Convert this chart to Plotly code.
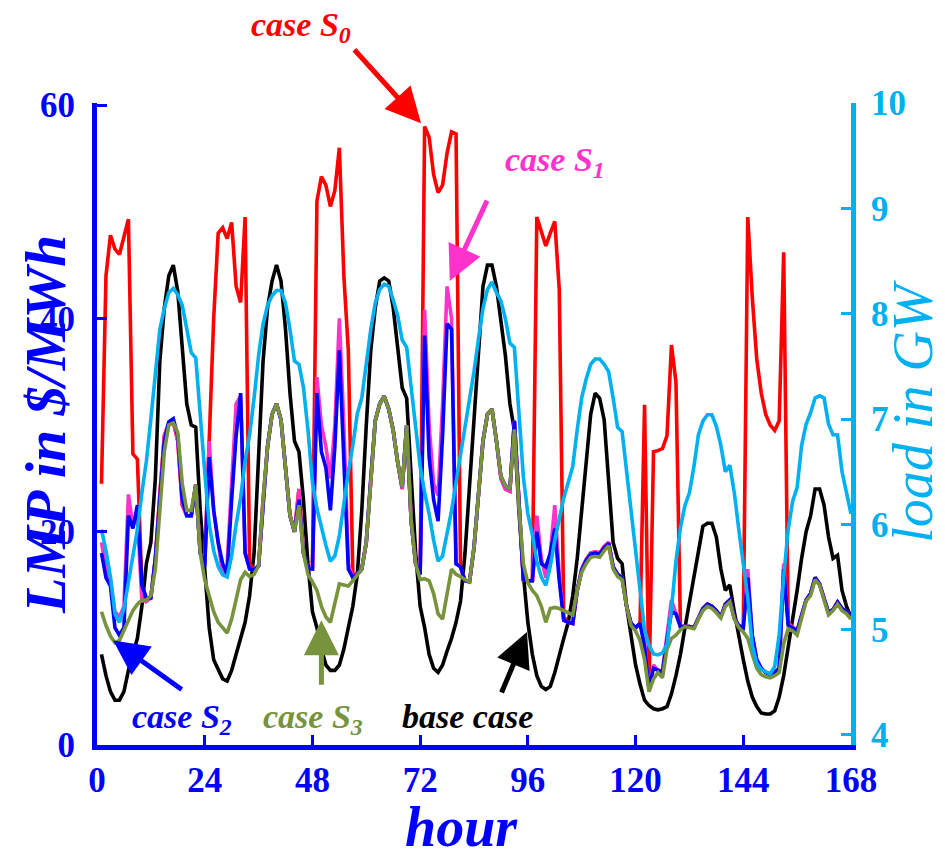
import plotly.graph_objects as go

hours = list(range(1, 169))

base_case = [
    8.5, 6.5, 5.0, 4.2, 4.2, 5.0, 7.0, 8.5, 10.0, 13.0, 17.0, 19.0, 25.0, 36.0, 41.0, 44.0, 45.0, 42.5, 37.0, 32.0, 30.0, 29.8, 22.0, 16.0,
    11.0, 8.0, 7.0, 6.2, 6.0, 7.0, 8.5, 10.0, 11.5, 14.0, 18.0, 27.0, 36.0, 41.0, 43.5, 45.0, 43.5, 39.0, 33.0, 28.5, 27.5, 23.0, 17.0, 12.5,
    11.0, 9.0, 7.5, 7.0, 7.0, 7.5, 9.0, 11.0, 13.0, 16.0, 22.0, 30.0, 37.0, 41.0, 43.5, 43.8, 43.5, 41.0, 37.0, 33.5, 32.5, 25.0, 18.0, 13.0,
    11.0, 8.5, 7.2, 6.8, 7.5, 8.8, 10.0, 11.5, 13.5, 18.0, 24.5, 31.0, 37.5, 43.0, 45.0, 45.0, 43.0, 39.5, 36.5, 32.0, 29.5, 22.0, 16.0, 11.5,
    8.5, 6.5, 5.5, 5.2, 5.5, 6.8, 8.5, 10.0, 11.5, 14.0, 17.5, 22.0, 27.0, 31.0, 33.0, 32.5, 30.5, 25.0, 19.0, 17.5, 17.0, 13.0, 10.0, 7.5,
    5.7, 4.2, 3.7, 3.4, 3.3, 3.4, 3.6, 4.8, 6.5, 8.5, 11.0, 13.5, 16.0, 18.5, 20.5, 20.8, 20.8, 19.5, 16.5, 14.5, 15.0, 12.5, 10.0, 8.0,
    6.0, 4.5, 3.6, 3.0, 2.9, 2.9, 3.2, 4.5, 6.5, 9.0, 12.0, 14.5, 17.5, 20.0, 21.5, 24.0, 24.0, 22.5, 19.5, 17.5, 17.8, 14.5, 13.0, 12.0,
]

case_s0 = [
    24.5, 44.0, 47.8, 46.5, 46.0, 47.5, 49.3, 27.3, 26.8, 15.0, 13.5, 13.8, 17.5, 23.5, 29.0, 30.2, 30.3, 28.5, 22.5, 21.5, 21.5, 24.4, 18.0, 17.0,
    28.5, 40.0, 48.0, 48.5, 47.5, 49.0, 43.0, 41.5, 49.5, 17.0, 16.4, 16.8, 23.0, 28.0, 31.0, 32.0, 30.5, 26.0, 21.5, 20.0, 24.0, 18.0, 16.5, 16.5,
    51.0, 53.3, 52.5, 50.5, 52.0, 56.0, 44.0, 37.0, 16.0, 16.0, 16.5, 19.0, 25.0, 30.4, 32.0, 32.7, 31.5, 29.5, 26.5, 24.0, 30.0, 21.0, 17.0, 16.0,
    58.0, 57.0, 53.5, 51.8, 52.5, 55.5, 57.5, 57.3, 16.7, 15.4, 15.3, 18.5, 23.5, 28.5, 31.0, 31.5, 28.5, 25.0, 24.0, 23.8, 30.4, 22.5, 15.5, 15.4,
    15.4, 49.5, 48.0, 46.8, 48.0, 49.1, 42.7, 12.0, 11.5, 11.4, 14.5, 16.5, 17.4, 18.0, 18.1, 18.0, 18.6, 19.0, 16.7, 16.0, 15.7, 13.0, 11.4, 11.0,
    11.4, 31.9, 5.5, 27.5, 27.6, 27.8, 29.0, 37.5, 34.0, 11.1, 11.1, 11.1, 11.0, 12.0, 12.8, 13.2, 13.0, 12.6, 12.0, 13.2, 13.6, 11.9, 11.2, 11.0,
    49.5, 42.0, 36.2, 33.0, 31.0, 30.0, 29.5, 30.4, 46.2, 11.5, 11.0, 10.7, 12.2, 13.6, 14.2, 15.7, 15.1, 13.7, 12.4, 12.7, 13.4, 12.8, 12.5, 12.0,
]

case_s1 = [
    19.0, 16.5, 15.5, 12.5, 12.0, 13.0, 23.5, 20.5, 21.5, 13.5, 13.5, 13.8, 17.5, 23.5, 29.0, 30.2, 30.3, 28.5, 22.5, 21.5, 21.5, 24.4, 18.0, 17.0,
    28.5, 22.0, 19.0, 16.0, 17.0, 25.0, 32.0, 32.7, 18.0, 16.5, 16.4, 16.8, 23.0, 28.0, 31.0, 32.0, 30.5, 26.0, 21.5, 20.0, 24.0, 18.0, 16.5, 16.5,
    34.5, 30.0, 28.0, 25.0, 30.0, 40.0, 30.0, 17.0, 15.7, 16.0, 16.5, 19.0, 25.0, 30.4, 32.0, 32.7, 31.5, 29.5, 26.5, 24.0, 30.0, 21.0, 17.0, 16.0,
    40.8, 30.0, 24.5, 23.4, 32.0, 43.0, 40.0, 17.0, 16.7, 15.4, 15.3, 18.5, 23.5, 28.5, 31.0, 31.5, 28.5, 25.0, 24.0, 23.8, 30.4, 22.5, 15.5, 15.4,
    15.4, 21.5, 17.5, 15.7, 18.0, 22.5, 16.0, 11.7, 11.5, 11.4, 14.5, 16.5, 17.4, 18.0, 18.1, 18.0, 18.6, 19.0, 16.7, 16.0, 15.7, 13.0, 11.4, 11.0,
    11.4, 9.6, 5.3, 7.5, 7.0, 7.0, 10.0, 13.6, 12.3, 11.1, 11.1, 11.1, 11.0, 12.0, 12.8, 13.2, 13.0, 12.6, 12.0, 13.2, 13.6, 11.9, 11.2, 11.0,
    16.5, 10.3, 8.0, 7.2, 6.8, 6.6, 6.8, 7.2, 17.0, 11.4, 11.0, 10.7, 12.2, 13.6, 14.2, 15.7, 15.1, 13.7, 12.4, 12.7, 13.4, 12.8, 12.5, 12.0,
]

case_s2 = [
    18.0, 15.7, 14.9, 11.0, 10.3, 11.0, 21.5, 20.3, 22.5, 15.0, 13.8, 13.8, 17.5, 23.5, 28.5, 30.3, 30.6, 29.0, 23.0, 21.5, 21.5, 24.4, 18.0, 16.7,
    27.0, 22.0, 19.0, 17.0, 16.0, 23.0, 29.0, 33.0, 18.0, 16.5, 16.4, 16.8, 23.0, 28.0, 31.0, 32.0, 30.5, 26.0, 21.5, 20.0, 23.0, 18.0, 16.5, 16.5,
    33.0, 27.5, 26.0, 22.0, 28.0, 37.0, 26.0, 16.5, 15.7, 16.0, 16.5, 19.0, 25.0, 30.4, 32.0, 32.7, 31.5, 29.5, 26.5, 24.2, 30.0, 21.0, 17.0, 16.0,
    38.4, 27.0, 23.0, 21.0, 29.0, 39.5, 39.0, 17.0, 16.7, 15.4, 15.3, 18.5, 23.5, 28.5, 31.0, 31.5, 28.5, 25.2, 24.3, 24.0, 30.4, 22.5, 15.5, 15.4,
    15.4, 20.0, 17.0, 16.7, 18.0, 20.3, 15.4, 11.7, 11.5, 11.4, 14.5, 16.4, 17.3, 17.9, 18.0, 17.9, 18.5, 18.9, 16.7, 16.0, 15.7, 13.0, 11.4, 11.0,
    11.4, 9.2, 5.3, 7.2, 7.0, 6.8, 9.9, 12.5, 12.3, 11.1, 11.1, 11.1, 11.0, 12.0, 12.8, 13.2, 13.0, 12.6, 12.0, 13.2, 13.6, 11.9, 11.2, 11.0,
    15.7, 10.3, 8.0, 7.2, 6.8, 6.6, 6.8, 7.2, 16.5, 11.2, 11.0, 10.7, 12.2, 13.6, 14.2, 15.7, 15.1, 13.7, 12.4, 12.7, 13.4, 12.8, 12.5, 12.0,
]

case_s3 = [
    12.5, 11.2, 10.2, 9.6, 9.8, 10.8, 11.8, 12.6, 13.2, 13.6, 13.6, 14.0, 16.5, 22.0, 27.5, 30.0, 30.2, 29.3, 24.5, 22.0, 22.0, 24.4, 18.0, 15.5,
    14.0, 12.5, 11.5, 11.0, 10.5, 11.8, 13.5, 15.5, 16.2, 15.8, 16.0, 16.8, 23.0, 28.0, 31.0, 32.0, 30.5, 26.0, 21.5, 20.0, 22.5, 18.0, 16.0, 15.3,
    14.5, 13.0, 12.0, 11.5, 13.3, 15.1, 15.0, 14.9, 15.4, 15.9, 16.5, 19.0, 25.0, 30.4, 32.0, 32.7, 31.5, 29.5, 26.5, 24.2, 30.0, 21.0, 17.0, 15.5,
    15.6, 15.4, 14.2, 12.3, 11.8, 14.2, 16.5, 16.0, 15.8, 15.5, 15.3, 18.5, 23.5, 28.5, 31.0, 31.5, 28.5, 25.2, 24.3, 24.0, 29.6, 22.5, 17.0, 15.2,
    14.5, 14.0, 13.0, 11.5, 12.8, 12.9, 12.8, 12.6, 12.4, 12.2, 14.5, 16.2, 17.0, 17.6, 17.7, 17.6, 18.2, 18.7, 16.5, 15.8, 15.5, 13.0, 11.2, 10.7,
    9.8, 8.0, 5.0, 6.2, 6.8, 6.3, 9.0, 10.0, 10.3, 10.8, 11.1, 11.0, 10.9, 11.8, 12.6, 13.0, 12.8, 12.4, 11.9, 13.0, 13.4, 11.8, 11.0, 10.6,
    10.0, 8.5, 7.2, 6.6, 6.4, 6.3, 6.5, 6.8, 9.5, 10.9, 10.7, 10.3, 12.0, 13.5, 14.0, 15.5, 15.0, 13.5, 12.2, 12.6, 13.2, 12.6, 12.3, 11.8,
]

load_gw = [
    5.95, 5.75, 5.5, 5.15, 5.07, 5.2, 5.45, 5.7, 5.95, 6.3, 6.6, 7.0, 7.45, 7.85, 8.05, 8.2, 8.24, 8.18, 8.08, 7.85, 7.63, 7.58, 7.0, 6.5,
    6.0, 5.75, 5.6, 5.52, 5.5, 5.7, 6.0, 6.25, 6.6, 6.85, 7.2, 7.6, 7.9, 8.08, 8.17, 8.22, 8.22, 8.1, 7.85, 7.55, 7.52, 7.3, 6.9, 6.4,
    6.15, 5.97, 5.8, 5.65, 5.7, 5.89, 6.2, 6.5, 6.75, 7.05, 7.2, 7.55, 7.85, 8.1, 8.23, 8.28, 8.26, 8.13, 7.98, 7.75, 7.68, 7.3, 6.9, 6.55,
    6.3, 6.1, 5.85, 5.65, 5.7, 5.9, 6.13, 6.4, 6.65, 6.9, 7.15, 7.45, 7.76, 8.05, 8.23, 8.3, 8.2, 8.12, 7.95, 7.72, 7.68, 7.0, 6.45, 6.1,
    5.9, 5.65, 5.5, 5.42, 5.6, 5.85, 6.05, 6.25, 6.4, 6.55, 6.9, 7.2, 7.38, 7.52, 7.57, 7.57, 7.52, 7.45, 7.2, 6.92, 6.88, 6.5, 6.15, 5.8,
    5.4, 5.0, 4.85, 4.77, 4.76, 4.78, 4.86, 5.2, 5.65, 5.97, 6.18, 6.3, 6.55, 6.85, 6.98, 7.04, 7.04, 6.93, 6.75, 6.5, 6.56, 6.3, 5.95, 5.6,
    5.3, 4.85, 4.68, 4.62, 4.6, 4.58, 4.65, 4.95, 5.5, 5.95, 6.22, 6.35, 6.75, 6.95, 7.06, 7.2, 7.22, 7.2, 6.95, 6.85, 6.85, 6.5, 6.3, 6.1,
]

x_ticks = [0, 24, 48, 72, 96, 120, 144, 168]
lmp_ticks = [0, 20, 40, 60]
load_ticks = [4, 5, 6, 7, 8, 9, 10]

BLUE = "#0000FF"
CYAN = "#00B0F0"
RED = "#FF0000"
MAGENTA = "#FF33CC"
GREEN = "#77933C"
BLACK = "#000000"
SERIF = "Liberation Serif"

fig = go.Figure()
lw = 3.6
fig.add_trace(go.Scatter(x=hours, y=base_case, mode="lines", line=dict(color=BLACK, width=lw), name="base case"))
fig.add_trace(go.Scatter(x=hours, y=case_s0, mode="lines", line=dict(color=RED, width=lw), name="case S0"))
fig.add_trace(go.Scatter(x=hours, y=case_s1, mode="lines", line=dict(color=MAGENTA, width=lw), name="case S1"))
fig.add_trace(go.Scatter(x=hours, y=case_s2, mode="lines", line=dict(color=BLUE, width=lw), name="case S2"))
fig.add_trace(go.Scatter(x=hours, y=case_s3, mode="lines", line=dict(color=GREEN, width=lw), name="case S3"))
fig.add_trace(go.Scatter(x=hours, y=load_gw, mode="lines", line=dict(color=CYAN, width=lw), name="load", yaxis="y2"))

tickfont_blue = dict(family=SERIF, size=35, color=BLUE, weight="bold")
tickfont_cyan = dict(family=SERIF, size=35, color=CYAN, weight="bold")

fig.update_layout(
    width=945, height=862,
    margin=dict(l=97, r=94, t=103, b=117),
    paper_bgcolor="white", plot_bgcolor="white",
    showlegend=False,
    xaxis=dict(range=[0, 168], tickvals=x_ticks, showgrid=False, zeroline=False,
               showline=True, linecolor=BLUE, linewidth=5,
               ticks="inside", ticklen=10, tickwidth=3, tickcolor=BLUE,
               tickfont=tickfont_blue, ticklabelstandoff=0),
    yaxis=dict(range=[0, 60.2], tickvals=lmp_ticks, showgrid=False, zeroline=False,
               showline=True, linecolor=BLUE, linewidth=5,
               ticks="inside", ticklen=10, tickwidth=3, tickcolor=BLUE,
               tickfont=tickfont_blue, ticklabelstandoff=10),
    yaxis2=dict(range=[3.905, 10.0], tickvals=load_ticks, overlaying="y", side="right",
                showgrid=False, zeroline=False, showline=True, linecolor=CYAN, linewidth=5,
                ticks="inside", ticklen=10, tickwidth=3, tickcolor=CYAN,
                tickfont=tickfont_cyan, ticklabelstandoff=8),
)

def txt(text, x, y, color, size, angle=0):
    fig.add_annotation(text=text, x=x, y=y, xref="paper", yref="paper", showarrow=False,
                       font=dict(family=SERIF, size=size, color=color), textangle=angle,
                       xanchor="center", yanchor="middle")

txt("<b><i>LMP in $/MWh</i></b>", -0.069, 0.50, BLUE, 58, -90)
txt("<i>load in GW</i>", 1.083, 0.52, CYAN, 56, -90)
txt("<b><i>hour</i></b>", 0.484, -0.128, BLUE, 56)

txt("<b><i>case S<sub>0</sub></i></b>", 0.271, 1.118, RED, 34)
txt("<b><i>case S<sub>1</sub></i></b>", 0.607, 0.908, MAGENTA, 34)
txt("<b><i>case S<sub>2</sub></i></b>", 0.113, 0.04, BLUE, 34)
txt("<b><i>case S<sub>3</sub></i></b>", 0.287, 0.04, GREEN, 34)
txt("<b><i>base case</i></b>", 0.492, 0.045, BLACK, 34)

def arrow(hx, hy, ax, ay, color):
    fig.add_annotation(x=hx, y=hy, xref="x", yref="y", ax=ax, ay=ay, text="",
                       showarrow=True, arrowhead=2, arrowsize=1.4, arrowwidth=5,
                       arrowcolor=color)

arrow(72.2, 58.3, -68, -75, RED)
arrow(78.6, 43.5, 38, -82, MAGENTA)
arrow(3.6, 9.8, 70, 50, BLUE)
arrow(50.0, 11.7, 0, 66, GREEN)
arrow(95.8, 10.6, -26, 62, BLACK)

fig.write_html("out.html")
